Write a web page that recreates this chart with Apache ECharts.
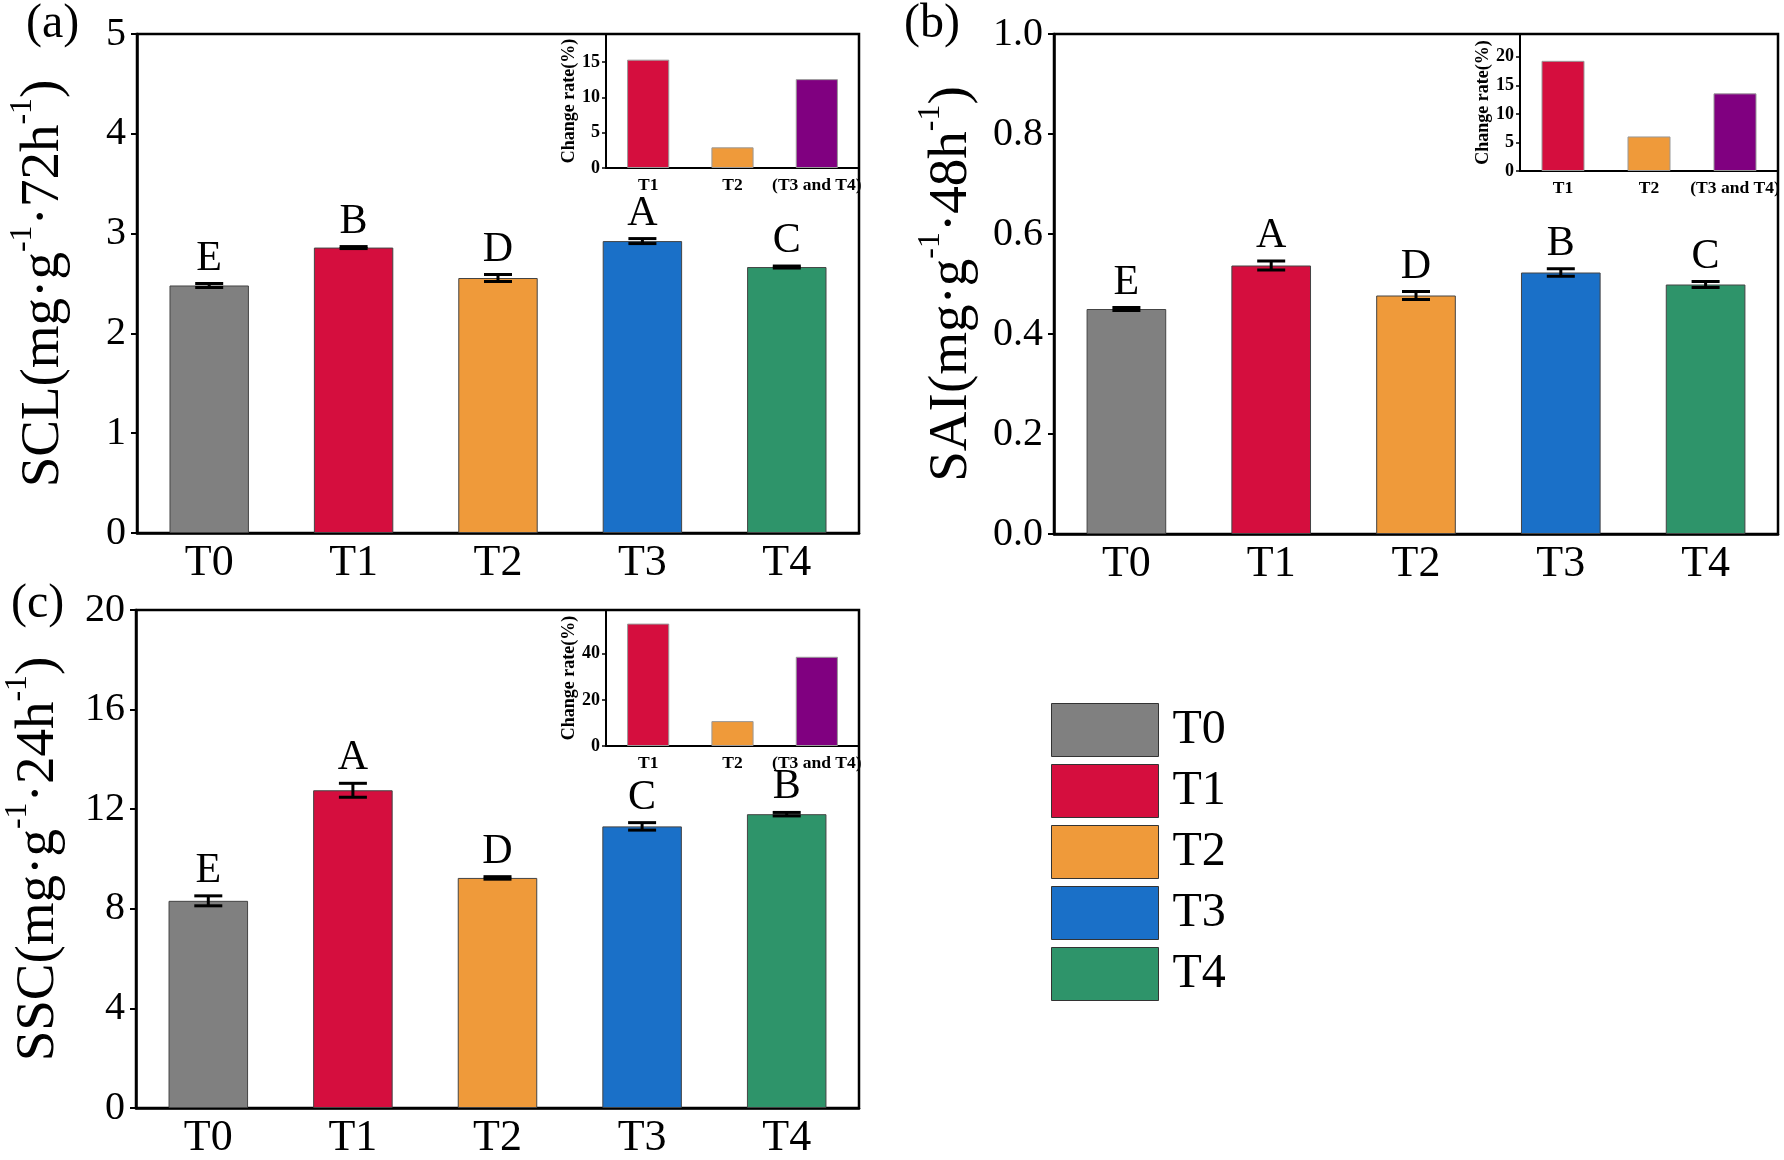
<!DOCTYPE html>
<html>
<head>
<meta charset="utf-8">
<script src="https://cdn.jsdelivr.net/npm/echarts@6/dist/echarts.min.js"></script>
<style>
html,body{margin:0;padding:0;background:#fff;}
#chart{width:1784px;height:1160px;}
</style>
</head>
<body>
<div id="chart"></div>
<script>
// ---- data ----
const categories = ['T0', 'T1', 'T2', 'T3', 'T4'];
const sclValues = [2.48, 2.86, 2.555, 2.925, 2.665];
const sclErrors = [0.02, 0.01, 0.035, 0.025, 0.01];
const sclLetters = ['E', 'B', 'D', 'A', 'C'];
const saiValues = [0.450, 0.537, 0.477, 0.523, 0.499];
const saiErrors = [0.003, 0.009, 0.008, 0.0075, 0.006];
const saiLetters = ['E', 'A', 'D', 'B', 'C'];
const sscValues = [8.32, 12.76, 9.24, 11.31, 11.80];
const sscErrors = [0.2, 0.28, 0.05, 0.15, 0.07];
const sscLetters = ['E', 'A', 'D', 'C', 'B'];
const insetCategories = ['T1', 'T2', '(T3 and T4)'];
const sclRates = [15.36, 2.93, 12.6];
const saiRates = [19.3, 6.05, 13.6];
const sscRates = [53.1, 10.8, 38.7];
const sclTicks = [0, 1, 2, 3, 4, 5];
const saiTicks = [0, 0.2, 0.4, 0.6, 0.8, 1.0];
const sscTicks = [0, 4, 8, 12, 16, 20];
const sclRateTicks = [0, 5, 10, 15];
const saiRateTicks = [0, 5, 10, 15, 20];
const sscRateTicks = [0, 20, 40];

// ---- styles ----
const barColors = ['#808080', '#D50E3E', '#EF9A3A', '#1A70C8', '#2E946A'];
const rateColors = ['#D50E3E', '#EF9A3A', '#800080'];
const FONT = '"Liberation Serif", "Times New Roman", serif';

const panels = [
  { tag: '(a)', vals: sclValues, errs: sclErrors, letters: sclLetters, rates: sclRates,
    ticks: sclTicks, rateTicks: sclRateTicks, rateMax: 19, dec: 0,
    name: ['SCL(mg·g', '-1', '·72h', '-1', ')'],
    grid: { left: 137, top: 34, width: 722, height: 499 }, nameGap: 66,
    inset: { left: 606, top: 34, width: 253, height: 134 },
    title: { left: 26, top: 0 } },
  { tag: '(b)', vals: saiValues, errs: saiErrors, letters: saiLetters, rates: saiRates,
    ticks: saiTicks, rateTicks: saiRateTicks, rateMax: 24, dec: 1,
    name: ['SAI(mg·g', '-1', '·48h', '-1', ')'],
    grid: { left: 1054, top: 34, width: 724, height: 500 }, nameGap: 75,
    inset: { left: 1520, top: 34, width: 258, height: 137 },
    title: { left: 904, top: 0 } },
  { tag: '(c)', vals: sscValues, errs: sscErrors, letters: sscLetters, rates: sscRates,
    ticks: sscTicks, rateTicks: sscRateTicks, rateMax: 59, dec: 0,
    name: ['SSC(mg·g', '-1', '·24h', '-1', ')'],
    grid: { left: 136, top: 610, width: 723, height: 501 }, nameGap: 70,
    inset: { left: 606, top: 610, width: 253, height: 136 },
    title: { left: 11, top: 580 } }
];

const grids = [], xAxes = [], yAxes = [], series = [], titles = [];

panels.forEach((p, k) => {
  const gi = grids.length;
  grids.push(Object.assign({ show: true, borderColor: '#000', borderWidth: 2.5, backgroundColor: 'transparent' }, p.grid));
  xAxes.push({
    type: 'category', gridIndex: gi, data: categories, boundaryGap: true,
    axisLine: { lineStyle: { color: '#000', width: 2.5 } },
    axisTick: { alignWithLabel: true, inside: false, length: 7, lineStyle: { color: '#000', width: 2 } },
    axisLabel: { fontFamily: FONT, fontSize: 44, color: '#000', margin: 8 },
    splitLine: { show: false }
  });
  const tmin = p.ticks[0], tmax = p.ticks[p.ticks.length - 1];
  yAxes.push({
    type: 'value', gridIndex: gi, min: tmin, max: tmax, interval: p.ticks[1] - p.ticks[0],
    name: '{n|' + p.name[0] + '}{s|' + p.name[1] + '}{n|' + p.name[2] + '}{s|' + p.name[3] + '}{n|' + p.name[4] + '}',
    nameLocation: 'middle', nameGap: p.nameGap,
    nameTextStyle: { fontFamily: FONT, color: '#000',
      rich: { n: { fontFamily: FONT, fontSize: 55, color: '#000', lineHeight: 64, verticalAlign: 'bottom' },
              s: { fontFamily: FONT, fontSize: 32, color: '#000', lineHeight: 64, verticalAlign: 'top' } } },
    axisLine: { show: true, lineStyle: { color: '#000', width: 2.5 } },
    axisTick: { show: true, inside: false, length: 6, lineStyle: { color: '#000', width: 2 } },
    axisLabel: { fontFamily: FONT, fontSize: 40, color: '#000', margin: 11,
      formatter: v => v.toFixed(p.dec) },
    splitLine: { show: false }
  });
  categories.forEach((c, i) => {
    series.push({
      type: 'bar', name: c, xAxisIndex: gi, yAxisIndex: gi, stack: 'main' + k,
      barWidth: '55%',
      itemStyle: { color: barColors[i], borderColor: '#444', borderWidth: 1 },
      data: p.vals.map((v, j) => (j === i ? v : '-'))
    });
  });
  series.push({
    type: 'custom', xAxisIndex: gi, yAxisIndex: gi, z: 10,
    data: p.vals.map((v, i) => [i, v, p.errs[i]]),
    encode: { x: 0, y: 1 },
    renderItem: (params, api) => {
      const x = api.value(0), v = api.value(1), e = api.value(2);
      const top = api.coord([x, v + e]);
      const bot = api.coord([x, v - e]);
      const hw = 14;
      const ls = { stroke: '#000', lineWidth: 3 };
      return { type: 'group', children: [
        { type: 'line', shape: { x1: top[0], y1: top[1], x2: bot[0], y2: bot[1] }, style: ls },
        { type: 'line', shape: { x1: top[0] - hw, y1: top[1], x2: top[0] + hw, y2: top[1] }, style: ls },
        { type: 'line', shape: { x1: bot[0] - hw, y1: bot[1], x2: bot[0] + hw, y2: bot[1] }, style: ls },
        { type: 'text', style: { text: p.letters[params.dataIndex], x: top[0], y: top[1] - 4,
            align: 'center', verticalAlign: 'bottom', font: '42px ' + FONT, fill: '#000' } }
      ] };
    }
  });

  // inset
  const ii = grids.length;
  grids.push(Object.assign({ show: false }, p.inset));
  xAxes.push({
    type: 'category', gridIndex: ii, data: insetCategories, boundaryGap: true,
    axisLine: { lineStyle: { color: '#000', width: 2 } },
    axisTick: { alignWithLabel: true, inside: false, length: 4, lineStyle: { color: '#000', width: 1.5 } },
    axisLabel: { fontFamily: FONT, fontSize: 17.5, fontWeight: 'bold', color: '#000', margin: 8, interval: 0 },
    splitLine: { show: false }
  });
  yAxes.push({
    type: 'value', gridIndex: ii, min: 0, max: p.rateMax,
    name: 'Change rate(%)', nameLocation: 'middle', nameGap: 28,
    nameTextStyle: { fontFamily: FONT, fontSize: 18, fontWeight: 'bold', color: '#000' },
    axisLine: { show: true, lineStyle: { color: '#000', width: 2 } },
    axisTick: { show: true, inside: false, length: 4, customValues: p.rateTicks, lineStyle: { color: '#000', width: 1.5 } },
    axisLabel: { fontFamily: FONT, fontSize: 18, fontWeight: 'bold', color: '#000', margin: 6, customValues: p.rateTicks },
    splitLine: { show: false }
  });
  series.push({
    type: 'bar', xAxisIndex: ii, yAxisIndex: ii, barWidth: '50%',
    data: p.rates.map((r, i) => ({ value: r, itemStyle: { color: rateColors[i], borderColor: '#999', borderWidth: 1 } }))
  });

  titles.push({ text: p.tag, left: p.title.left, top: p.title.top, padding: 0,
    textStyle: { fontFamily: FONT, fontSize: 48, fontWeight: 'normal', color: '#000' } });
});

const chart = echarts.init(document.getElementById('chart'), null, { renderer: 'canvas' });
chart.setOption({
  animation: false,
  backgroundColor: '#fff',
  title: titles,
  grid: grids,
  xAxis: xAxes,
  yAxis: yAxes,
  legend: {
    data: categories, orient: 'vertical', left: 1051, top: 703, padding: 0,
    itemWidth: 107, itemHeight: 53, itemGap: 7, icon: 'rect', selectedMode: false,
    itemStyle: { borderColor: '#333', borderWidth: 1 },
    textStyle: { fontFamily: FONT, fontSize: 48, color: '#000', padding: [0, 0, 0, 9] }
  },
  series: series
});
</script>
</body>
</html>
